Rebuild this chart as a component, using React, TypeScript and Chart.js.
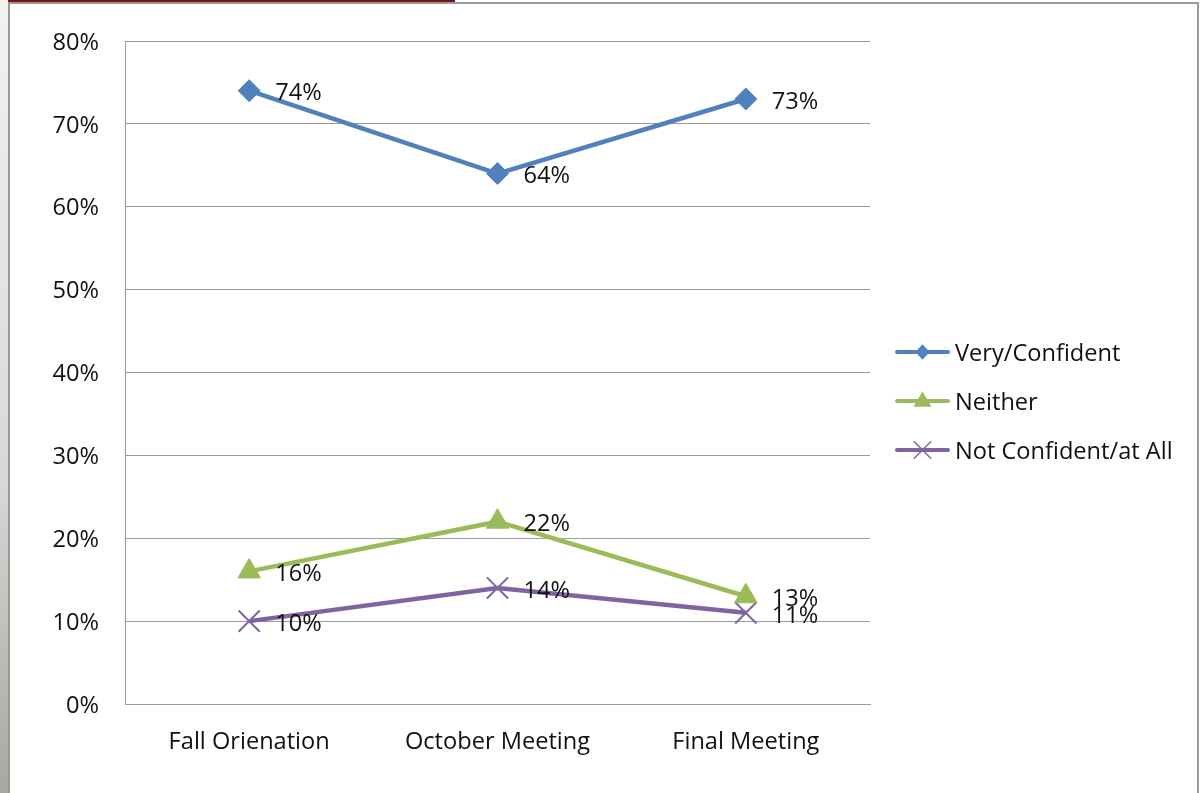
import React, { useEffect, useRef } from "react";
import { Chart, registerables } from "chart.js";

Chart.register(...registerables);

const categories = ["Fall Orienation", "October Meeting", "Final Meeting"];
const veryConfident = [0.74, 0.64, 0.73];
const neither = [0.16, 0.22, 0.13];
const notConfident = [0.1, 0.14, 0.11];
const seriesNames = ["Very/Confident", "Neither", "Not Confident/at All"];
const seriesColors = ["#4F81BD", "#9BBB59", "#8064A2"];
const seriesMarkers = ["rectRot", "triangle", "crossRot"];

const FONT = "'Open Sans', 'Noto Sans', sans-serif";
const FONT_SIZE = 23.6;

function drawMarker(ctx: CanvasRenderingContext2D, style: string, x: number, y: number, r: number, color: string) {
  ctx.fillStyle = color;
  ctx.strokeStyle = color;
  ctx.beginPath();
  if (style === "rectRot") {
    ctx.moveTo(x, y - r * 1.1);
    ctx.lineTo(x + r, y);
    ctx.lineTo(x, y + r * 1.1);
    ctx.lineTo(x - r, y);
    ctx.closePath();
    ctx.fill();
  } else if (style === "triangle") {
    ctx.moveTo(x, y - r);
    ctx.lineTo(x + r * 0.95, y + r * 0.6);
    ctx.lineTo(x - r * 0.95, y + r * 0.6);
    ctx.closePath();
    ctx.fill();
  } else {
    ctx.lineWidth = 1.5;
    const d = r * 0.75;
    ctx.moveTo(x - d, y - d);
    ctx.lineTo(x + d, y + d);
    ctx.moveTo(x + d, y - d);
    ctx.lineTo(x - d, y + d);
    ctx.stroke();
  }
}

const labelPlugin = {
  id: "pointLabels",
  afterDatasetsDraw(chart: any) {
    const ctx = chart.ctx;
    ctx.save();
    ctx.font = `${FONT_SIZE}px ${FONT}`;
    ctx.fillStyle = "#111";
    ctx.textAlign = "left";
    ctx.textBaseline = "middle";
    chart.data.datasets.forEach((ds: any, di: number) => {
      const meta = chart.getDatasetMeta(di);
      meta.data.forEach((pt: any, i: number) => {
        const v = ds.data[i] as number;
        ctx.fillText(`${Math.round(v * 100)}%`, pt.x + 26, pt.y + 3);
      });
    });
    ctx.restore();
  },
};

const legendPlugin = {
  id: "customLegend",
  afterDraw(chart: any) {
    const ctx = chart.ctx;
    ctx.save();
    const x0 = 897;
    const x1 = 948;
    const ys = [352, 401, 450];
    chart.data.datasets.forEach((ds: any, di: number) => {
      const y = ys[di];
      ctx.strokeStyle = ds.borderColor;
      ctx.lineWidth = 4;
      ctx.lineCap = "round";
      ctx.beginPath();
      ctx.moveTo(x0, y);
      ctx.lineTo(x1, y);
      ctx.stroke();
      drawMarker(ctx, seriesMarkers[di], (x0 + x1) / 2, y, di === 0 ? 7 : di === 1 ? 9.5 : 11, ds.borderColor);
      ctx.fillStyle = "#111";
      ctx.font = `${FONT_SIZE}px ${FONT}`;
      ctx.textAlign = "left";
      ctx.textBaseline = "middle";
      ctx.fillText(ds.label, 955, y + 2);
    });
    ctx.restore();
  },
};

export default function App() {
  const ref = useRef<HTMLCanvasElement | null>(null);
  useEffect(() => {
    if (!ref.current) return;
    const radii = [11, 13, 15];
    const mk = (label: string, data: number[], i: number) => ({
      label,
      data,
      borderColor: seriesColors[i],
      backgroundColor: seriesColors[i],
      borderWidth: 4.5,
      pointStyle: seriesMarkers[i],
      pointRadius: radii[i],
      pointBorderWidth: i === 2 ? 2 : 1,
      pointBackgroundColor: seriesColors[i],
      pointBorderColor: seriesColors[i],
      tension: 0,
    });
    const chart = new Chart(ref.current, {
      type: "line",
      data: {
        labels: categories,
        datasets: [
          mk(seriesNames[0], veryConfident, 0),
          mk(seriesNames[1], neither, 1),
          mk(seriesNames[2], notConfident, 2),
        ],
      },
      options: {
        animation: false,
        responsive: false,
        events: [],
        layout: { padding: { top: 41, right: 331, left: 0, bottom: 0 } },
        plugins: { legend: { display: false }, tooltip: { enabled: false }, title: { display: false } },
        scales: {
          x: {
            type: "category",
            offset: true,
            grid: { display: false, drawTicks: false },
            border: { display: true, color: "#9a9a9a", width: 1 },
            ticks: { color: "#111", font: { family: FONT, size: FONT_SIZE }, padding: 24, maxRotation: 0 },
            afterFit: (s: any) => {
              s.height = 89;
            },
          },
          y: {
            min: 0,
            max: 0.8,
            ticks: {
              stepSize: 0.1,
              color: "#111",
              font: { family: FONT, size: FONT_SIZE },
              padding: 26,
              labelOffset: 2,
              callback: (v: any) => `${Math.round(Number(v) * 100)}%`,
            },
            grid: { color: "#9a9a9a", lineWidth: 1, drawTicks: false },
            border: { display: true, color: "#9a9a9a", width: 1 },
            afterFit: (s: any) => {
              s.width = 125;
            },
          },
        },
      },
      plugins: [labelPlugin, legendPlugin],
    });
    return () => chart.destroy();
  }, []);

  return (
    <div style={{ position: "fixed", left: 0, top: 0, width: 1201, height: 793, overflow: "hidden", background: "#fff" }}>
      <div style={{ position: "absolute", left: 0, top: 0, width: 8, height: 793, background: "linear-gradient(#f2f2f0, #d8d8d4 60%, #a8a8a2)" }} />
      <div style={{ position: "absolute", left: 8, top: 0, width: 447, height: 3, background: "#7a1414" }} />
      <div style={{ position: "absolute", left: 8, top: 2, width: 1191, height: 800, border: "2px solid #9a9a9a", borderBottom: "none", boxSizing: "border-box", background: "#fff" }} />
      <canvas ref={ref} width={1201} height={793} style={{ position: "absolute", left: 0, top: 0, width: 1201, height: 793 }} />
    </div>
  );
}
